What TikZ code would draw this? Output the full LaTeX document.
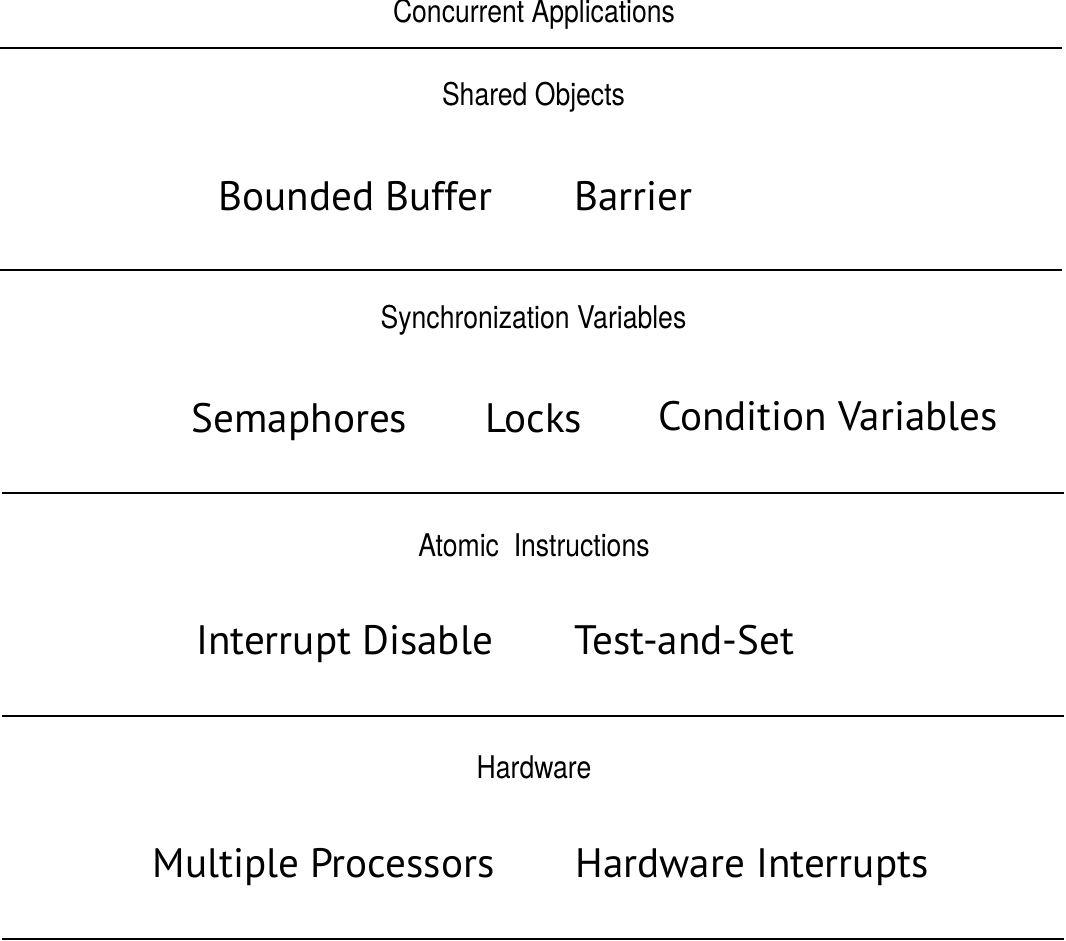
\documentclass[tikz,border=0pt]{standalone}
\usepackage{fontspec}
\setmainfont{PT Sans}
\newfontfamily\condfont[FakeStretch=0.85]{TeX Gyre Heros}
\usepackage{tikz}
\tikzset{
  rule/.style={line width=1.6pt, draw=black, line cap=butt},
  layertitle/.style={anchor=base, inner sep=0pt, font=\condfont\fontsize{17.8}{20}\selectfont},
  layeritem/.style={anchor=base, inner sep=0pt, font=\fontsize{23.4}{28}\selectfont},
}

\begin{document}
\begin{tikzpicture}
\useasboundingbox (0,0) rectangle (21.320,18.820);
\draw[rule] (0.000,17.860) -- (21.240,17.860);
\draw[rule] (0.000,13.420) -- (21.240,13.420);
\draw[rule] (0.040,8.960) -- (21.280,8.960);
\draw[rule] (0.040,4.500) -- (21.280,4.500);
\draw[rule] (0.040,0.040) -- (21.280,0.040);
\node[layertitle] (apps) at (10.680,18.360) {Concurrent Applications};
\node[layertitle] (shared) at (10.670,16.700) {Shared Objects};
\node[layeritem] (buffer) at (7.110,14.600) {Bounded Buffer};
\node[layeritem] (barrier) at (12.670,14.600) {Barrier};
\node[layertitle] (syncvars) at (10.670,12.240) {Synchronization Variables};
\node[layeritem] (sema) at (5.990,10.160) {Semaphores};
\node[layeritem] (locks) at (10.680,10.160) {Locks};
\node[layeritem] (condvars) at (16.560,10.200) {Condition Variables};
\node[layertitle] (atomic) at (10.680,7.680) {Atomic\ \ Instructions};
\node[layeritem] (intdis) at (6.890,5.720) {Interrupt Disable};
\node[layeritem] (tas) at (13.690,5.720) {Test-and-Set};
\node[layertitle] (hardware) at (10.680,3.240) {Hardware};
\node[layeritem] (multiproc) at (6.470,1.260) {Multiple Processors};
\node[layeritem] (hwint) at (15.040,1.260) {Hardware Interrupts};
\end{tikzpicture}
\end{document}
